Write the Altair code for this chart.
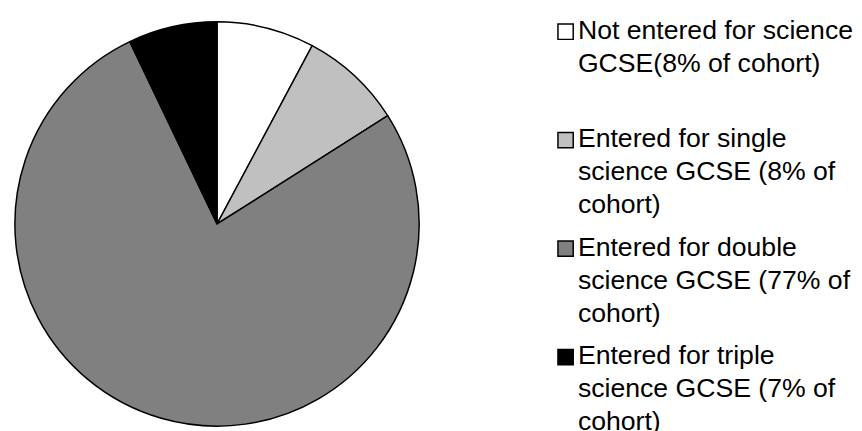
import altair as alt
import pandas as pd

categories = ["not", "single", "double", "triple"]
values = [7.8, 8.2, 76.9, 7.1]
labels = [
    "Not entered for science\nGCSE(8% of cohort)",
    "Entered for single\nscience GCSE (8% of\ncohort)",
    "Entered for double\nscience GCSE (77% of\ncohort)",
    "Entered for triple\nscience GCSE (7% of\ncohort)",
]
colors = ["#ffffff", "#c0c0c0", "#808080", "#000000"]

df = pd.DataFrame({
    "cat": categories,
    "value": values,
    "label": labels,
    "idx": list(range(len(categories))),
})

color_scale = alt.Scale(domain=categories, range=colors)

pie = alt.Chart(df).mark_arc(stroke="black", strokeWidth=1.5).encode(
    theta=alt.Theta("value:Q", stack=True),
    color=alt.Color("cat:N", scale=color_scale, legend=None),
    order=alt.Order("idx:Q"),
).properties(width=410, height=410)

ypos = alt.Y("cat:N", sort=categories,
             scale=alt.Scale(type="point", range=[17, 347], padding=0),
             axis=None)

# square legend symbol drawn slightly above the text baseline
square_path = "M-1,-1.9H1V0.1H-1Z"

squares = alt.Chart(df).mark_point(
    shape=square_path, filled=True, size=240, stroke="black",
    strokeWidth=1.5, opacity=1,
).encode(
    x=alt.value(9.5),
    y=ypos,
    fill=alt.Color("cat:N", scale=color_scale, legend=None),
)

texts = alt.Chart(df).mark_text(
    align="left", baseline="alphabetic", lineBreak="\n",
    fontSize=27, lineHeight=33.5, font="Liberation Sans", color="black",
).encode(
    x=alt.value(22),
    y=ypos,
    text="label:N",
)

legend = alt.layer(squares, texts).properties(width=290, height=410)

chart = alt.hconcat(pie, legend, spacing=134).properties(
    padding={"left": 4, "top": 6, "right": 0, "bottom": 0},
    background="white",
).configure_view(stroke=None)

chart.save("out.html", embed_options={"renderer": "svg", "actions": False})
